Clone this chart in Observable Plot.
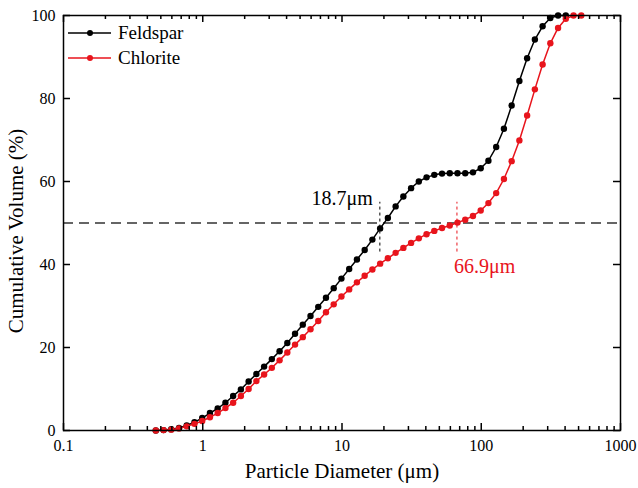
<!DOCTYPE html>
<html>
<head>
<meta charset="utf-8">
<script src="https://cdn.jsdelivr.net/npm/d3@7"></script>
<script src="https://cdn.jsdelivr.net/npm/@observablehq/plot@0.6"></script>
<style>
  body { margin: 0; background: #fff; }
  #wrap { position: relative; width: 638px; height: 488px; font-family: "Liberation Serif", "Times New Roman", serif; }
  #legend { position: absolute; left: 68px; top: 20px; font-size: 19px; line-height: 25px; }
  #legend div { display: flex; align-items: center; height: 25px; }
  #legend svg { margin-right: 6px; }
</style>
</head>
<body>
<div id="wrap"><div id="legend"></div></div>
<script>
// Particle size classes (µm)
const diameters = [0.460, 0.523, 0.594, 0.675, 0.767, 0.872, 0.991, 1.126, 1.280, 1.455,
  1.653, 1.879, 2.135, 2.427, 2.758, 3.134, 3.562, 4.048, 4.600, 5.228,
  5.941, 6.752, 7.673, 8.720, 9.910, 11.26, 12.80, 14.55, 16.53, 18.79,
  21.35, 24.27, 27.58, 31.34, 35.62, 40.48, 46.00, 52.28, 59.41, 67.52,
  76.73, 87.20, 99.10, 112.6, 128.0, 145.5, 165.3, 187.9, 213.5, 242.7,
  275.8, 313.4, 356.2, 404.8, 460.0, 522.8];

// Cumulative volume (%)
const feldspar = [0, 0.1, 0.3, 0.6, 1.2, 2.0, 3.0, 4.2, 5.3, 6.7,
  8.3, 9.9, 11.8, 13.6, 15.4, 17.2, 19.1, 21.1, 23.3, 25.5,
  27.6, 29.8, 32.0, 34.3, 36.6, 38.9, 41.2, 43.5, 46.0, 48.7,
  51.2, 54.0, 56.4, 58.4, 60.0, 61.0, 61.6, 61.9, 62.0, 62.0,
  62.0, 62.2, 63.2, 65.0, 68.3, 72.7, 78.3, 84.2, 89.7, 94.2,
  97.4, 99.4, 100, 100];
const chlorite = [0, 0.1, 0.2, 0.5, 1.0, 1.6, 2.3, 3.2, 4.2, 5.4,
  6.7, 8.3, 10.0, 11.9, 13.5, 15.1, 16.9, 18.8, 20.7, 22.5,
  24.4, 26.4, 28.5, 30.4, 32.3, 34.0, 35.7, 37.3, 38.8, 40.2,
  41.5, 42.8, 44.0, 45.2, 46.3, 47.3, 48.1, 48.8, 49.4, 50.1,
  50.8, 51.7, 53.0, 54.8, 57.2, 60.6, 64.9, 69.9, 75.9, 82.2,
  88.2, 93.3, 97.0, 99.2, 100, 100];

const seriesNames = ["Feldspar", "Chlorite"];
const seriesColors = ["#000000", "#e8141c"];

// Median diameters D50
const d50Values = [18.7, 66.9];
const d50Labels = ["18.7μm", "66.9μm"];
const d50Range = [43, 55];
const refLevel = [50];

// Tick values
const xMajorTicks = [0.1, 1, 10, 100, 1000];
const xMinorTicks = [0.2,0.3,0.4,0.5,0.6,0.7,0.8,0.9, 2,3,4,5,6,7,8,9, 20,30,40,50,60,70,80,90, 200,300,400,500,600,700,800,900];
const yTicks = [0, 20, 40, 60, 80, 100];

const xDomain = [0.1, 1000];
const yDomain = [0, 100];

const feldData = feldspar.map((v, i) => ({d: diameters[i], v, s: seriesNames[0]}));
const chlData = chlorite.map((v, i) => ({d: diameters[i], v, s: seriesNames[1]}));
const d50Data = d50Values.map((d, i) => ({d, label: d50Labels[i], color: seriesColors[i], y1: d50Range[0], y2: d50Range[1]}));

const font = "Liberation Serif, Times New Roman, serif";
const W = 638, H = 488, mL = 63, mR = 18, mT = 15, mB = 58;
const fw = W - mL - mR, fh = H - mT - mB;
const majorPx = 7, minorPx = 4;

// tick lengths converted from pixels to data units
const yPer = (yDomain[1] - yDomain[0]) / fh;
const xDec = Math.log10(xDomain[1] / xDomain[0]) / fw;

const xTickRows = [];
for (const [list, len] of [[xMajorTicks, majorPx], [xMinorTicks, minorPx]]) {
  for (const t of list) {
    xTickRows.push({x: t, a: yDomain[0], b: yDomain[0] + len * yPer});
    xTickRows.push({x: t, a: yDomain[1], b: yDomain[1] - len * yPer});
  }
}
const yTickRows = [];
for (const t of yTicks) {
  yTickRows.push({y: t, a: xDomain[0], b: xDomain[0] * Math.pow(10, majorPx * xDec)});
  yTickRows.push({y: t, a: xDomain[1], b: xDomain[1] / Math.pow(10, majorPx * xDec)});
}

const chart = Plot.plot({
  width: W,
  height: H,
  marginLeft: mL,
  marginRight: mR,
  marginTop: mT,
  marginBottom: mB,
  style: {fontFamily: font, background: "#fff", overflow: "visible"},
  x: {type: "log", domain: xDomain, axis: null},
  y: {domain: yDomain, axis: null},
  marks: [
    // reference line
    Plot.ruleY(refLevel, {stroke: "#333", strokeWidth: 1.5, strokeDasharray: "10,6"}),
    // D50 markers
    Plot.ruleX(d50Data, {x: "d", y1: "y1", y2: "y2", stroke: "color", strokeWidth: 1, strokeDasharray: "3,3"}),
    // series
    Plot.line(feldData, {x: "d", y: "v", stroke: seriesColors[0], strokeWidth: 1.5}),
    Plot.dot(feldData, {x: "d", y: "v", fill: seriesColors[0], r: 3.2}),
    Plot.line(chlData, {x: "d", y: "v", stroke: seriesColors[1], strokeWidth: 1.5}),
    Plot.dot(chlData, {x: "d", y: "v", fill: seriesColors[1], r: 3.2}),
    // D50 labels
    Plot.text([d50Data[0]], {x: "d", y: refLevel[0], text: "label", fill: "color", textAnchor: "end", dx: -7, dy: -24, fontSize: 20, fontFamily: font}),
    Plot.text([d50Data[1]], {x: "d", y: refLevel[0], text: "label", fill: "color", textAnchor: "start", dx: -3, dy: 44, fontSize: 20, fontFamily: font}),
    // inward ticks
    Plot.ruleX(xTickRows, {x: "x", y1: "a", y2: "b", stroke: "#000", strokeWidth: 1.5}),
    Plot.ruleY(yTickRows, {y: "y", x1: "a", x2: "b", stroke: "#000", strokeWidth: 1.5}),
    // tick labels
    Plot.axisX(xMajorTicks, {anchor: "bottom", tickSize: 0, tickPadding: 9, fontSize: 16, fontFamily: font, fill: "#000", tickFormat: d => String(d), label: null}),
    Plot.axisY(yTicks, {anchor: "left", tickSize: 0, tickPadding: 8, fontSize: 16, fontFamily: font, fill: "#000", label: null}),
    Plot.frame({stroke: "#000", strokeWidth: 1.5}),
    // axis titles
    Plot.text(["Particle Diameter (μm)"], {frameAnchor: "bottom", textAnchor: "middle", lineAnchor: "middle", dy: 41, fontSize: 21, fontFamily: font, fill: "#000"}),
    Plot.text(["Cumulative Volume (%)"], {frameAnchor: "left", textAnchor: "middle", lineAnchor: "middle", rotate: -90, dx: -47, dy: 8, fontSize: 21, fontFamily: font, fill: "#000"})
  ]
});

const wrap = document.getElementById("wrap");
wrap.insertBefore(chart, wrap.firstChild);

// Legend
const legend = document.getElementById("legend");
seriesNames.forEach((name, i) => {
  const row = document.createElement("div");
  row.innerHTML = `<svg width="44" height="10"><line x1="0" y1="5" x2="43" y2="5" stroke="${seriesColors[i]}" stroke-width="1.5"/><circle cx="22" cy="5" r="3" fill="${seriesColors[i]}"/></svg><span>${name}</span>`;
  legend.appendChild(row);
});
</script>
</body>
</html>
